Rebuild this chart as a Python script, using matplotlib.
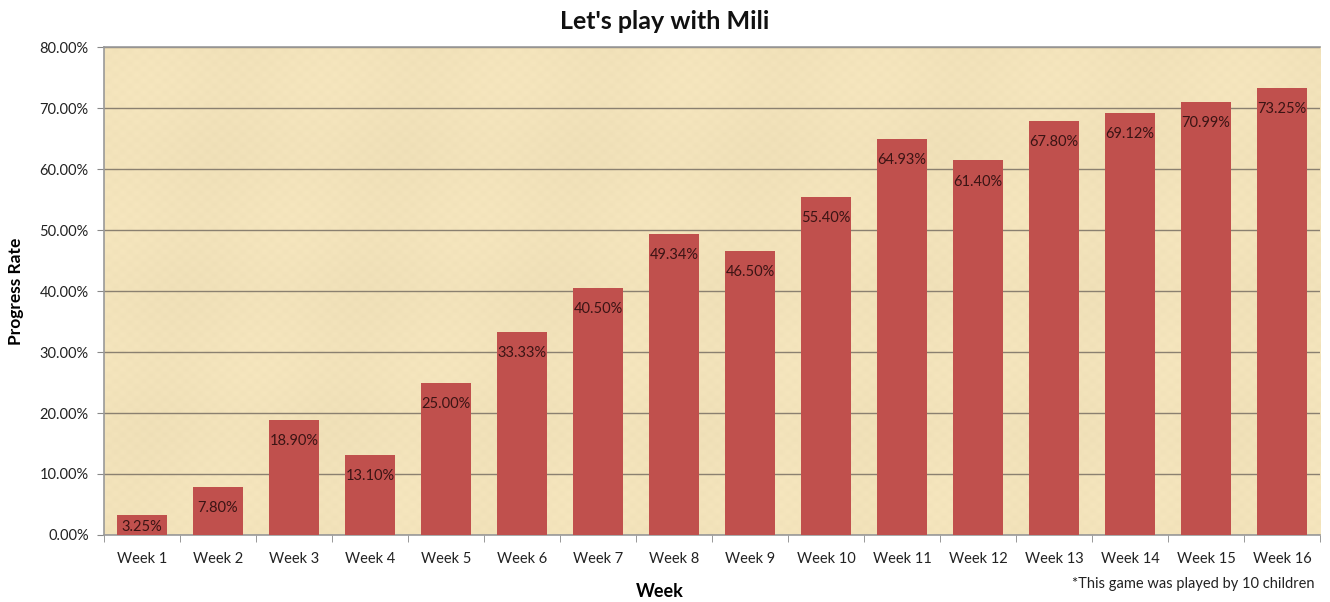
import matplotlib
matplotlib.use("Agg")
import matplotlib.pyplot as plt
import numpy as np
from matplotlib.ticker import FuncFormatter, MultipleLocator

weeks = [f"Week {i}" for i in range(1, 17)]
values = [3.25, 7.80, 18.90, 13.10, 25.00, 33.33, 40.50, 49.34,
          46.50, 55.40, 64.93, 61.40, 67.80, 69.12, 70.99, 73.25]

plt.rcParams['font.family'] = ['Lato', 'DejaVu Sans']

fig = plt.figure(figsize=(13.3, 6.02), dpi=100)
ax = fig.add_axes([0.0782, 0.1113, 0.9143, 0.8106])

# paper-like background (deterministic pattern)
yy, xx = np.mgrid[0:200, 0:600]
tex = (0.5 + 0.15 * np.sin(xx * 0.9) * np.sin(yy * 1.3)
       + 0.1 * np.sin(xx * 0.07 + yy * 0.02) + 0.08 * np.sin(yy * 0.11))
base = np.array([0.950, 0.888, 0.730])
img = base[None, None, :] + (tex[..., None] - 0.5) * 0.05
img = np.clip(img, 0, 1)
ax.imshow(img, extent=[-0.5, 15.5, 0, 80], aspect='auto', zorder=0)

ax.set_xlim(-0.5, 15.5)
ax.set_ylim(0, 80)
x = np.arange(len(weeks))
bars = ax.bar(x, values, width=0.66, color='#C0504D', zorder=3)
for xi, v in zip(x, values):
    ax.text(xi, max(v - 3.45, 1.3), f"{v:.2f}%", ha='center', va='center',
            fontsize=10.5, color='#3b1414', zorder=4)

ax.yaxis.set_major_locator(MultipleLocator(10))
ax.yaxis.set_major_formatter(FuncFormatter(lambda v, p: f"{v:.2f}%"))
ax.grid(axis='y', color='#8a8070', linewidth=1.0, zorder=1)
ax.set_axisbelow(True)

ax.set_xticks(x)
ax.set_xticklabels(weeks)
ax.set_xticks(np.arange(-0.5, 16, 1), minor=True)
ax.tick_params(axis='x', which='major', length=0, pad=12, labelsize=10.5, colors='#222222')
ax.tick_params(axis='x', which='minor', length=5, color='#888888', direction='out')
ax.tick_params(axis='y', length=5, color='#888888', labelsize=10.5, colors='#222222', pad=6)

for s in ['left', 'bottom', 'top']:
    ax.spines[s].set_color('#999999')
    ax.spines[s].set_linewidth(1.2)
ax.spines['right'].set_visible(False)

ax.set_xlabel("Week", fontsize=13, fontweight='bold')
ax.xaxis.set_label_coords(0.457, -0.098)
ax.set_ylabel("Progress Rate", fontsize=12.5, fontweight='bold')
ax.yaxis.set_label_coords(-0.066, 0.5)
fig.text(0.5, 0.965, "Let's play with Mili", ha='center', va='center',
         fontsize=18, fontweight='bold', color='#111111')
fig.text(0.988, 0.018, "*This game was played by 10 children", ha='right', va='bottom',
         fontsize=10.5, color='#222222')

fig.savefig("out.png", dpi=100)
